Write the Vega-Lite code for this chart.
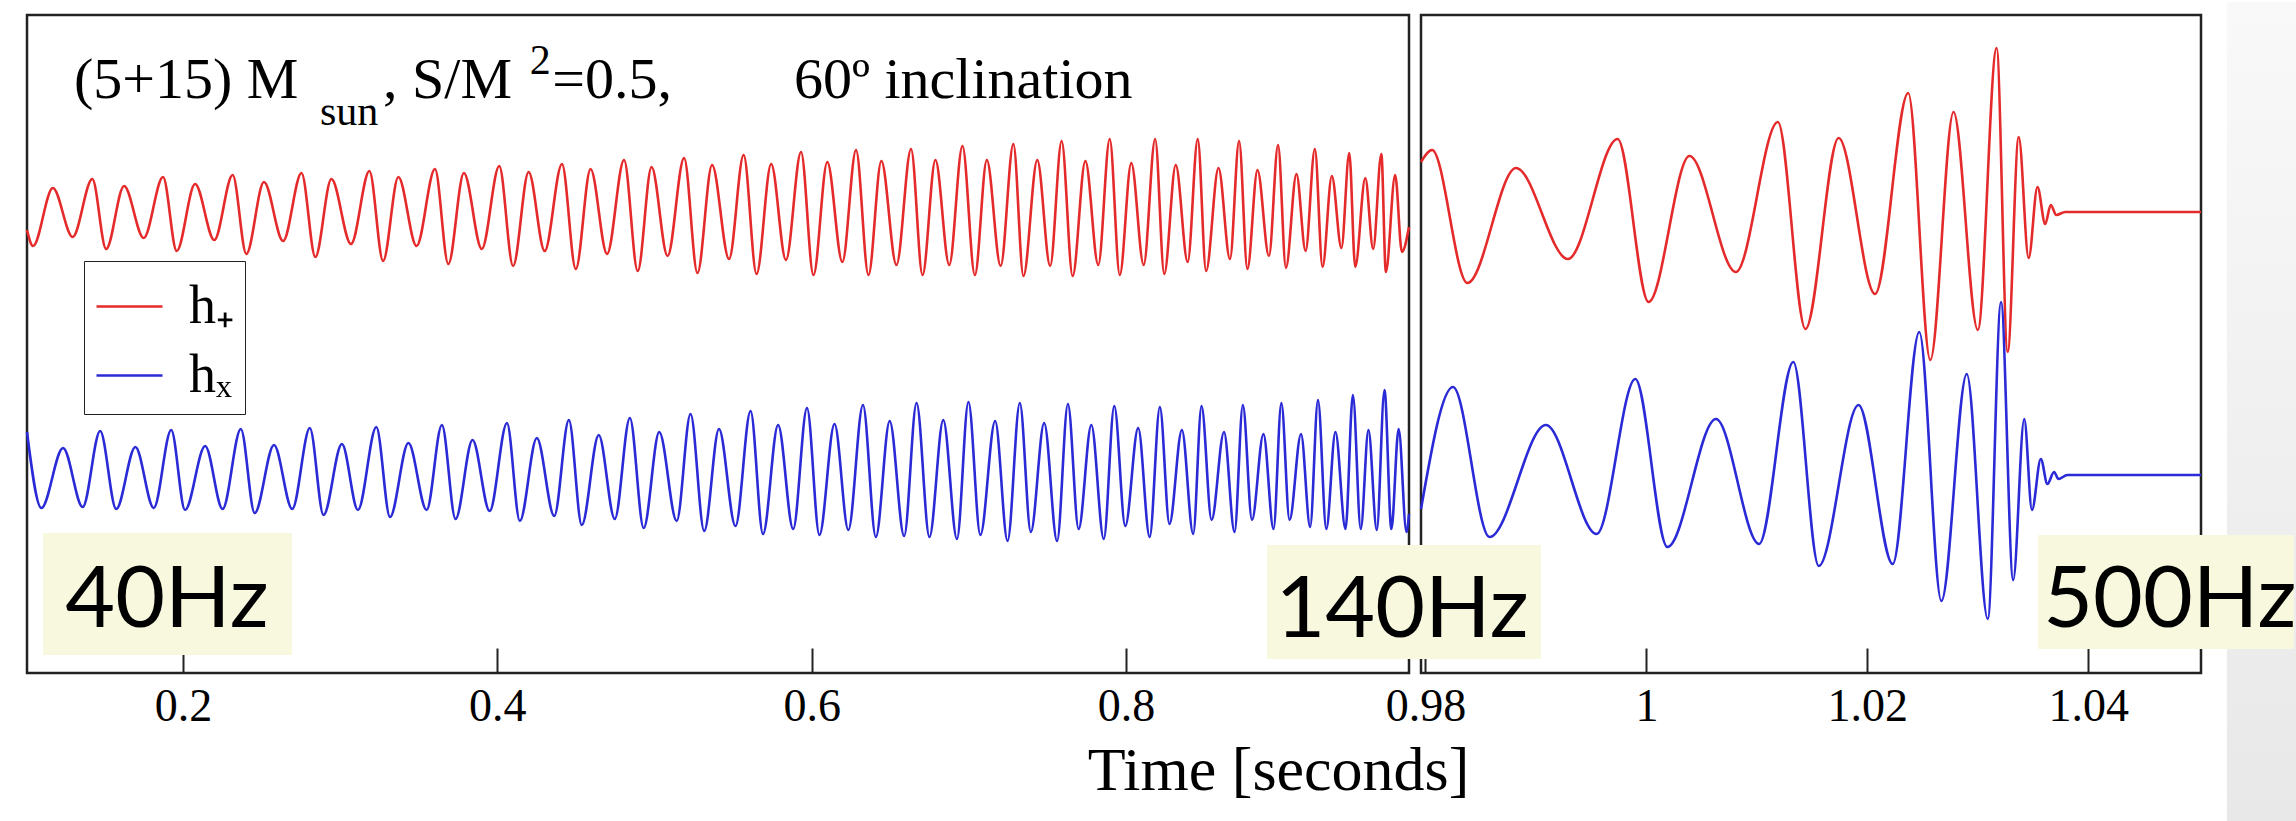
{
"$schema":"https://vega.github.io/schema/vega-lite/v6.json",
"background":"white",
"padding":{"left":20,"top":0,"right":0,"bottom":0},
"spacing":12,
"bounds":"flush",
"config":{
 "view":{"stroke":"#222","strokeWidth":2.5},
 "axis":{"grid":false,"domain":false,"tickColor":"#222","tickWidth":2,"tickSize":-25,"labelFont":"Liberation Serif","labelFontSize":46,"labelColor":"#000","labelPadding":36,"labelFlush":false,"labelOverlap":false,"labelBound":false}
},
"datasets":{
"left":[
{"s":"h₊","t":0.10075,"h":1.14},{"s":"h₊","t":0.1046,"h":0.98},{"s":"h₊","t":0.1172,"h":1.56},{"s":"h₊","t":0.1298,"h":1.07},{"s":"h₊","t":0.1423,"h":1.65},{"s":"h₊","t":0.1511,"h":0.95},{"s":"h₊","t":0.1625,"h":1.58},{"s":"h₊","t":0.175,"h":1.06},{"s":"h₊","t":0.1873,"h":1.67},{"s":"h₊","t":0.196,"h":0.93},{"s":"h₊","t":0.2077,"h":1.6},{"s":"h₊","t":0.2199,"h":1.04},{"s":"h₊","t":0.2316,"h":1.69},{"s":"h₊","t":0.2403,"h":0.9},{"s":"h₊","t":0.2515,"h":1.62},{"s":"h₊","t":0.2637,"h":1.03},{"s":"h₊","t":0.2754,"h":1.71},{"s":"h₊","t":0.2842,"h":0.87},{"s":"h₊","t":0.2944,"h":1.65},{"s":"h₊","t":0.3069,"h":1.0},{"s":"h₊","t":0.3186,"h":1.73},{"s":"h₊","t":0.3273,"h":0.83},{"s":"h₊","t":0.337,"h":1.67},{"s":"h₊","t":0.3486,"h":0.98},{"s":"h₊","t":0.3603,"h":1.75},{"s":"h₊","t":0.3688,"h":0.8},{"s":"h₊","t":0.3787,"h":1.71},{"s":"h₊","t":0.3901,"h":0.95},{"s":"h₊","t":0.4012,"h":1.78},{"s":"h₊","t":0.41,"h":0.78},{"s":"h₊","t":0.4199,"h":1.72},{"s":"h₊","t":0.4301,"h":0.93},{"s":"h₊","t":0.4411,"h":1.8},{"s":"h₊","t":0.4499,"h":0.75},{"s":"h₊","t":0.4593,"h":1.75},{"s":"h₊","t":0.4698,"h":0.9},{"s":"h₊","t":0.4806,"h":1.84},{"s":"h₊","t":0.4893,"h":0.73},{"s":"h₊","t":0.4981,"h":1.77},{"s":"h₊","t":0.5083,"h":0.88},{"s":"h₊","t":0.5188,"h":1.86},{"s":"h₊","t":0.5273,"h":0.71},{"s":"h₊","t":0.5366,"h":1.79},{"s":"h₊","t":0.5474,"h":0.85},{"s":"h₊","t":0.5567,"h":1.89},{"s":"h₊","t":0.5649,"h":0.7},{"s":"h₊","t":0.5742,"h":1.8},{"s":"h₊","t":0.5836,"h":0.84},{"s":"h₊","t":0.5932,"h":1.92},{"s":"h₊","t":0.6011,"h":0.69},{"s":"h₊","t":0.6099,"h":1.82},{"s":"h₊","t":0.6195,"h":0.82},{"s":"h₊","t":0.6282,"h":1.94},{"s":"h₊","t":0.6361,"h":0.69},{"s":"h₊","t":0.6443,"h":1.83},{"s":"h₊","t":0.6539,"h":0.79},{"s":"h₊","t":0.6632,"h":1.95},{"s":"h₊","t":0.6705,"h":0.69},{"s":"h₊","t":0.6787,"h":1.84},{"s":"h₊","t":0.6875,"h":0.79},{"s":"h₊","t":0.6959,"h":1.98},{"s":"h₊","t":0.7038,"h":0.69},{"s":"h₊","t":0.7114,"h":1.84},{"s":"h₊","t":0.7202,"h":0.78},{"s":"h₊","t":0.7283,"h":2.0},{"s":"h₊","t":0.7347,"h":0.68},{"s":"h₊","t":0.7435,"h":1.84},{"s":"h₊","t":0.7517,"h":0.78},{"s":"h₊","t":0.759,"h":2.03},{"s":"h₊","t":0.766,"h":0.68},{"s":"h₊","t":0.7741,"h":1.83},{"s":"h₊","t":0.7823,"h":0.79},{"s":"h₊","t":0.7896,"h":2.05},{"s":"h₊","t":0.796,"h":0.69},{"s":"h₊","t":0.8033,"h":1.81},{"s":"h₊","t":0.8112,"h":0.79},{"s":"h₊","t":0.8185,"h":2.05},{"s":"h₊","t":0.8243,"h":0.7},{"s":"h₊","t":0.8316,"h":1.79},{"s":"h₊","t":0.8392,"h":0.82},{"s":"h₊","t":0.8456,"h":2.05},{"s":"h₊","t":0.8509,"h":0.73},{"s":"h₊","t":0.8588,"h":1.76},{"s":"h₊","t":0.8661,"h":0.85},{"s":"h₊","t":0.8719,"h":2.03},{"s":"h₊","t":0.8772,"h":0.75},{"s":"h₊","t":0.8836,"h":1.74},{"s":"h₊","t":0.8909,"h":0.88},{"s":"h₊","t":0.8967,"h":1.99},{"s":"h₊","t":0.9017,"h":0.76},{"s":"h₊","t":0.9084,"h":1.7},{"s":"h₊","t":0.9142,"h":0.93},{"s":"h₊","t":0.9201,"h":1.95},{"s":"h₊","t":0.925,"h":0.77},{"s":"h₊","t":0.9309,"h":1.68},{"s":"h₊","t":0.937,"h":0.96},{"s":"h₊","t":0.942,"h":1.91},{"s":"h₊","t":0.9458,"h":0.77},{"s":"h₊","t":0.9522,"h":1.66},{"s":"h₊","t":0.9572,"h":0.95},{"s":"h₊","t":0.9624,"h":1.9},{"s":"h₊","t":0.9653,"h":0.72},{"s":"h₊","t":0.9712,"h":1.69},{"s":"h₊","t":0.9755,"h":0.92},{"s":"h₊","t":0.98,"h":1.17},
{"s":"hₓ","t":0.10075,"h":-0.88},{"s":"hₓ","t":0.1099,"h":-1.64},{"s":"hₓ","t":0.1237,"h":-1.04},{"s":"hₓ","t":0.1362,"h":-1.63},{"s":"hₓ","t":0.1473,"h":-0.87},{"s":"hₓ","t":0.1575,"h":-1.65},{"s":"hₓ","t":0.1697,"h":-1.03},{"s":"hₓ","t":0.1814,"h":-1.64},{"s":"hₓ","t":0.1925,"h":-0.86},{"s":"hₓ","t":0.2013,"h":-1.66},{"s":"hₓ","t":0.2141,"h":-1.02},{"s":"hₓ","t":0.2252,"h":-1.65},{"s":"hₓ","t":0.2368,"h":-0.85},{"s":"hₓ","t":0.2456,"h":-1.69},{"s":"hₓ","t":0.2579,"h":-1.01},{"s":"hₓ","t":0.2695,"h":-1.65},{"s":"hₓ","t":0.2807,"h":-0.84},{"s":"hₓ","t":0.2894,"h":-1.71},{"s":"hₓ","t":0.3011,"h":-1.0},{"s":"hₓ","t":0.3113,"h":-1.66},{"s":"hₓ","t":0.323,"h":-0.83},{"s":"hₓ","t":0.3317,"h":-1.73},{"s":"hₓ","t":0.3434,"h":-0.99},{"s":"hₓ","t":0.355,"h":-1.66},{"s":"hₓ","t":0.3647,"h":-0.81},{"s":"hₓ","t":0.3734,"h":-1.75},{"s":"hₓ","t":0.3842,"h":-0.96},{"s":"hₓ","t":0.3951,"h":-1.67},{"s":"hₓ","t":0.4061,"h":-0.79},{"s":"hₓ","t":0.4143,"h":-1.77},{"s":"hₓ","t":0.4251,"h":-0.94},{"s":"hₓ","t":0.4362,"h":-1.72},{"s":"hₓ","t":0.4455,"h":-0.76},{"s":"hₓ","t":0.4537,"h":-1.81},{"s":"hₓ","t":0.4645,"h":-0.91},{"s":"hₓ","t":0.4747,"h":-1.75},{"s":"hₓ","t":0.4843,"h":-0.74},{"s":"hₓ","t":0.4931,"h":-1.84},{"s":"hₓ","t":0.503,"h":-0.88},{"s":"hₓ","t":0.5141,"h":-1.77},{"s":"hₓ","t":0.5229,"h":-0.7},{"s":"hₓ","t":0.5316,"h":-1.87},{"s":"hₓ","t":0.541,"h":-0.85},{"s":"hₓ","t":0.5515,"h":-1.82},{"s":"hₓ","t":0.5611,"h":-0.67},{"s":"hₓ","t":0.569,"h":-1.9},{"s":"hₓ","t":0.5786,"h":-0.81},{"s":"hₓ","t":0.5882,"h":-1.85},{"s":"hₓ","t":0.597,"h":-0.64},{"s":"hₓ","t":0.6049,"h":-1.91},{"s":"hₓ","t":0.6145,"h":-0.8},{"s":"hₓ","t":0.6233,"h":-1.86},{"s":"hₓ","t":0.6326,"h":-0.61},{"s":"hₓ","t":0.6408,"h":-1.93},{"s":"hₓ","t":0.6496,"h":-0.77},{"s":"hₓ","t":0.6588,"h":-1.92},{"s":"hₓ","t":0.6667,"h":-0.59},{"s":"hₓ","t":0.6749,"h":-1.93},{"s":"hₓ","t":0.6837,"h":-0.76},{"s":"hₓ","t":0.6924,"h":-1.95},{"s":"hₓ","t":0.6997,"h":-0.58},{"s":"hₓ","t":0.7073,"h":-1.91},{"s":"hₓ","t":0.7167,"h":-0.77},{"s":"hₓ","t":0.7246,"h":-1.97},{"s":"hₓ","t":0.7324,"h":-0.59},{"s":"hₓ","t":0.7394,"h":-1.88},{"s":"hₓ","t":0.7479,"h":-0.79},{"s":"hₓ","t":0.7561,"h":-1.97},{"s":"hₓ","t":0.763,"h":-0.6},{"s":"hₓ","t":0.7698,"h":-1.85},{"s":"hₓ","t":0.7779,"h":-0.81},{"s":"hₓ","t":0.7858,"h":-1.95},{"s":"hₓ","t":0.7925,"h":-0.62},{"s":"hₓ","t":0.7995,"h":-1.82},{"s":"hₓ","t":0.8077,"h":-0.84},{"s":"hₓ","t":0.815,"h":-1.93},{"s":"hₓ","t":0.8215,"h":-0.63},{"s":"hₓ","t":0.8276,"h":-1.8},{"s":"hₓ","t":0.8355,"h":-0.86},{"s":"hₓ","t":0.8427,"h":-1.9},{"s":"hₓ","t":0.848,"h":-0.62},{"s":"hₓ","t":0.8544,"h":-1.76},{"s":"hₓ","t":0.8623,"h":-0.88},{"s":"hₓ","t":0.869,"h":-1.88},{"s":"hₓ","t":0.8743,"h":-0.61},{"s":"hₓ","t":0.8801,"h":-1.76},{"s":"hₓ","t":0.8874,"h":-0.9},{"s":"hₓ","t":0.8938,"h":-1.85},{"s":"hₓ","t":0.8988,"h":-0.59},{"s":"hₓ","t":0.904,"h":-1.76},{"s":"hₓ","t":0.9113,"h":-0.9},{"s":"hₓ","t":0.9171,"h":-1.83},{"s":"hₓ","t":0.9221,"h":-0.56},{"s":"hₓ","t":0.9274,"h":-1.85},{"s":"hₓ","t":0.9332,"h":-0.88},{"s":"hₓ","t":0.9396,"h":-1.85},{"s":"hₓ","t":0.9443,"h":-0.51},{"s":"hₓ","t":0.9493,"h":-1.85},{"s":"hₓ","t":0.9542,"h":-0.86},{"s":"hₓ","t":0.9595,"h":-1.86},{"s":"hₓ","t":0.9644,"h":-0.46},{"s":"hₓ","t":0.9688,"h":-1.85},{"s":"hₓ","t":0.9734,"h":-0.85},{"s":"hₓ","t":0.9784,"h":-1.88},{"s":"hₓ","t":0.98,"h":-1.7}
],
"right":[
{"s":"h₊","t":0.9796,"h":1.82},{"s":"h₊","t":0.9806,"h":1.94},{"s":"h₊","t":0.9838,"h":0.61},{"s":"h₊","t":0.9882,"h":1.76},{"s":"h₊","t":0.9929,"h":0.85},{"s":"h₊","t":0.9974,"h":2.05},{"s":"h₊","t":1.0002,"h":0.42},{"s":"h₊","t":1.0039,"h":1.88},{"s":"h₊","t":1.0081,"h":0.72},{"s":"h₊","t":1.0119,"h":2.22},{"s":"h₊","t":1.0144,"h":0.15},{"s":"h₊","t":1.0174,"h":2.06},{"s":"h₊","t":1.0207,"h":0.5},{"s":"h₊","t":1.0237,"h":2.51},{"s":"h₊","t":1.0257,"h":-0.16},{"s":"h₊","t":1.0278,"h":2.32},{"s":"h₊","t":1.03,"h":0.14},{"s":"h₊","t":1.0317,"h":2.96},{"s":"h₊","t":1.0327,"h":-0.08},{"s":"h₊","t":1.0337,"h":2.07},{"s":"h₊","t":1.0346,"h":0.86},{"s":"h₊","t":1.0354,"h":1.57},{"s":"h₊","t":1.0361,"h":1.2},{"s":"h₊","t":1.0366,"h":1.39},{"s":"h₊","t":1.0371,"h":1.29},{"s":"h₊","t":1.0379,"h":1.32},{"s":"h₊","t":1.0502,"h":1.32},
{"s":"hₓ","t":0.9796,"h":-1.65},{"s":"hₓ","t":0.9825,"h":-0.43},{"s":"hₓ","t":0.9858,"h":-1.93},{"s":"hₓ","t":0.9909,"h":-0.81},{"s":"hₓ","t":0.9955,"h":-1.9},{"s":"hₓ","t":0.999,"h":-0.35},{"s":"hₓ","t":1.0019,"h":-2.03},{"s":"hₓ","t":1.0063,"h":-0.75},{"s":"hₓ","t":1.0102,"h":-2.0},{"s":"hₓ","t":1.0133,"h":-0.18},{"s":"hₓ","t":1.0156,"h":-2.22},{"s":"hₓ","t":1.0192,"h":-0.61},{"s":"hₓ","t":1.0223,"h":-2.2},{"s":"hₓ","t":1.0247,"h":0.12},{"s":"hₓ","t":1.0267,"h":-2.57},{"s":"hₓ","t":1.029,"h":-0.3},{"s":"hₓ","t":1.0309,"h":-2.75},{"s":"hₓ","t":1.0321,"h":0.42},{"s":"hₓ","t":1.0332,"h":-2.36},{"s":"hₓ","t":1.0342,"h":-0.75},{"s":"hₓ","t":1.0349,"h":-1.66},{"s":"hₓ","t":1.0357,"h":-1.15},{"s":"hₓ","t":1.0363,"h":-1.4},{"s":"hₓ","t":1.0369,"h":-1.28},{"s":"hₓ","t":1.0373,"h":-1.35},{"s":"hₓ","t":1.0381,"h":-1.31},{"s":"hₓ","t":1.0502,"h":-1.31}
],
"notes":[
{"p":"L","k":"big","t":0.13065,"h":2.46,"txt":"(5+15) M"},
{"p":"L","k":"small","t":0.28716,"h":2.19,"txt":"sun"},
{"p":"L","k":"big","t":0.3273,"h":2.46,"txt":", S/M"},
{"p":"L","k":"small","t":0.4206,"h":2.7,"txt":"2"},
{"p":"L","k":"big","t":0.4349,"h":2.46,"txt":"=0.5,"},
{"p":"L","k":"big","t":0.58873,"h":2.46,"txt":"60º inclination"},
{"p":"L","k":"hz","t":0.1898,"h":-2.83,"txt":"40Hz"},
{"p":"R","k":"hz","t":0.97788,"h":-2.93,"txt":"140Hz"},
{"p":"R","k":"hz","t":1.04738,"h":-2.83,"txt":"500Hz"}
],
"boxes":[
{"p":"L","t":0.1109,"t2":0.2693,"h":-1.89,"h2":-3.11},
{"p":"R","t":0.96566,"t2":0.99046,"h":-2.01,"h2":-3.15},
{"p":"R","t":1.03544,"t2":1.0586,"h":-1.91,"h2":-3.05},
{"p":"G","t":1.05254,"t2":1.06,"h":3.42,"h2":-4.79}
]
},
"resolve":{"scale":{"x":"independent","y":"independent","color":"independent"},"legend":{"color":"independent"}},
"hconcat":[
{
 "width":1382,"height":658,
 "encoding":{
  "x":{"field":"t","type":"quantitative","scale":{"domain":[0.10075,0.98],"nice":false,"zero":false},"axis":{"values":[0.2,0.4,0.6,0.8],"format":"~g","title":null}},
  "y":{"field":"h","type":"quantitative","scale":{"domain":[-3.29,3.29],"nice":false,"zero":false},"axis":null}
 },
 "layer":[
  {"data":{"name":"left"},"mark":{"type":"line","interpolate":"monotone","strokeWidth":2.6},
   "encoding":{"color":{"field":"s","type":"nominal","scale":{"domain":["h₊","hₓ"],"range":["#e42a2a","#2a2ad6"]},
    "legend":{"orient":"none","legendX":57,"legendY":246,"title":null,"symbolType":"stroke","symbolSize":4356,"symbolStrokeWidth":2.6,"labelFont":"Liberation Serif","labelFontSize":54,"labelColor":"#000","labelOffset":25,"rowPadding":7,"padding":11,"strokeColor":"#222","fillColor":"#fff","labelLimit":0}}}},
  {"data":{"name":"boxes"},"transform":[{"filter":"datum.p==='L'"}],"mark":{"type":"rect","color":"#f8f8de"},
   "encoding":{"x2":{"field":"t2"},"y2":{"field":"h2"}}},
  {"data":{"name":"notes"},"transform":[{"filter":"datum.p==='L' && datum.k==='big'"}],
   "mark":{"type":"text","font":"Liberation Serif","fontSize":58,"align":"left","baseline":"alphabetic","color":"#000"},
   "encoding":{"text":{"field":"txt"}}},
  {"data":{"name":"notes"},"transform":[{"filter":"datum.p==='L' && datum.k==='small'"}],
   "mark":{"type":"text","font":"Liberation Serif","fontSize":42,"align":"left","baseline":"alphabetic","color":"#000"},
   "encoding":{"text":{"field":"txt"}}},
  {"data":{"name":"notes"},"transform":[{"filter":"datum.p==='L' && datum.k==='hz'"}],
   "mark":{"type":"text","font":"Lato","fontSize":86,"align":"center","baseline":"alphabetic","color":"#000"},
   "encoding":{"text":{"field":"txt"}}}
 ]
},
{
 "width":780,"height":658,
 "encoding":{
  "x":{"field":"t","type":"quantitative","scale":{"domain":[0.9796,1.0502],"nice":false,"zero":false},
   "axis":{"values":[0.98,1,1.02,1.04],"format":"~g","title":"Time [seconds]","titleFont":"Liberation Serif","titleFontSize":62,"titleFontWeight":"normal","titleColor":"#000","titleX":-143,"titleY":116,"titleBaseline":"alphabetic","titleAlign":"center"}},
  "y":{"field":"h","type":"quantitative","scale":{"domain":[-3.29,3.29],"nice":false,"zero":false},"axis":null}
 },
 "layer":[
  {"data":{"name":"boxes"},"transform":[{"filter":"datum.p==='G'"}],
   "mark":{"type":"rect","fill":{"gradient":"linear","x1":0,"y1":0,"x2":0,"y2":1,"stops":[{"offset":0,"color":"#f9f9f9"},{"offset":1,"color":"#e8e8e8"}]}},
   "encoding":{"x2":{"field":"t2"},"y2":{"field":"h2"}}},
  {"data":{"name":"right"},"mark":{"type":"line","interpolate":"monotone","strokeWidth":2.6},
   "encoding":{"color":{"field":"s","type":"nominal","scale":{"domain":["h₊","hₓ"],"range":["#e42a2a","#2a2ad6"]},"legend":null}}},
  {"data":{"name":"boxes"},"transform":[{"filter":"datum.p==='R'"}],"mark":{"type":"rect","color":"#f8f8de"},
   "encoding":{"x2":{"field":"t2"},"y2":{"field":"h2"}}},
  {"data":{"name":"notes"},"transform":[{"filter":"datum.p==='R' && datum.k==='hz'"}],
   "mark":{"type":"text","font":"Lato","fontSize":86,"align":"center","baseline":"alphabetic","color":"#000"},
   "encoding":{"text":{"field":"txt"}}}
 ]
}
]
}
